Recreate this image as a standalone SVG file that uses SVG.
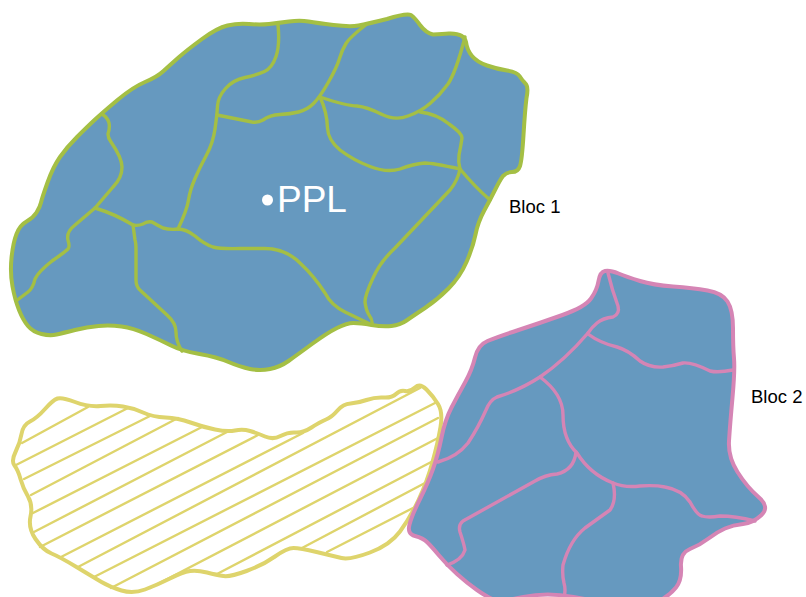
<svg xmlns="http://www.w3.org/2000/svg" width="806" height="597" viewBox="0 0 806 597">
<style>
.region{fill:#6699bf;stroke-width:4;stroke-linejoin:round}
.border{fill:none;stroke-width:3.4;stroke-linecap:round;stroke-linejoin:round}
.green{stroke:#a4bf44}
.pink{stroke:#d585b5}
.yellow{fill:none;stroke:#ded46c;stroke-width:4;stroke-linejoin:round}
.hatch{fill:none;stroke:#ded46c;stroke-width:2.400;stroke-linecap:round}
.label{font-family:"Liberation Sans",Arial,sans-serif;font-size:18.500px;fill:#000}
.ppl{font-family:"Liberation Sans",Arial,sans-serif;font-size:37px;fill:#fff}
</style>
<g id="zone-hatched">
<path class="hatch" d="M22 443L88 407M16 465L128 408M24 479L150 416M31 495L178 418M33 513L202 427M32 533L227 432M40 547L258 435M61 557L303 433M78 567L420 388M94 577L435 403M111 588L438 418M150 588L438 438M217 574L435 460M302 548L425 483M327 552L413 508"/>
<path class="yellow" d="M75 402Q88 407 100.500 406Q113 405 123 406.500Q133 408 143 412.500Q153 417 165.500 417.500Q178 418 190.500 422.500Q203 427 215 429.500Q227 432 235 430.500Q243 429 250 431Q257 433 265 436.500Q273 440 280.500 436Q288 432 295.500 432.500Q303 433 311.500 427.500Q320 422 326 419.500Q332 417 337.500 410.500Q343 404 350.500 403.500Q358 403 366.500 400Q375 397 383.500 397.500Q392 398 396 394Q400 390 405 391Q410 392 415 387.500Q420 383 426.500 389.500Q433 396 438 404Q443 412 440.500 427Q438 442 432.500 462Q427 482 418.500 500Q410 518 400 531.500Q390 545 370 552.500Q350 560 341.500 558Q333 556 316.500 552Q300 548 293.500 548Q287 548 275 556.500Q263 565 246.500 571Q230 577 223.500 576Q217 575 207 572.500Q197 570 190 571Q183 572 170 578.500Q157 585 145 589.500Q133 594 121.500 590.500Q110 587 101.500 582Q93 577 76.500 567Q60 557 51.500 553.500Q43 550 35.500 539Q28 528 30.500 516.500Q33 505 28 496.500Q23 488 20.500 479Q18 470 14.500 465.500Q11 461 15.500 452Q20 443 21.500 434Q23 425 30 421.500Q37 418 45 409Q53 400 57.500 398.500Q62 397 75 402Z"/>
</g>
<g id="bloc-1">
<path class="region green" d="M289 21.500Q300 20 308.500 21.500Q317 23 333.500 25Q350 27 358.500 25.500Q367 24 387 19Q406 13 411 15Q415 18 420 25Q426 33 433 34.500Q443 34 449 33.500Q464 33 466 42Q467 50 472 56Q477 62 487 65.500Q497 69 507 70.500Q517 72 519.500 76Q522 80 525 83Q529 86 526.500 98Q525 110 523.500 135Q522 160 520 166Q518 172 512 172Q507 172 503 176Q500 180 495 190Q490 200 484 211Q478 222 475.500 234.500Q473 247 466.500 262Q460 277 448.500 288.500Q437 300 425 308Q413 316 406.500 320.500Q400 325 391.500 326Q383 327 371.500 325Q360 323 353.500 323Q347 323 337 328Q327 333 312 344Q297 355 288.500 361Q280 367 270 369Q260 371 250 369Q240 367 228.500 362Q217 357 199.500 354Q182 351 171 345.500Q160 340 146.500 334Q133 328 121.500 326.500Q110 325 98.500 326Q87 327 75 330Q63 333 56.500 334.500Q50 336 41.500 334Q33 332 28 326Q23 320 19 310Q15 300 12.500 286.500Q10 273 11.500 258Q13 243 16.500 234Q20 225 26.500 221.500Q33 218 36.500 212.500Q40 207 41 202.500Q42 198 47.500 182.500Q53 167 60 157Q67 147 77 137Q87 127 94.500 120Q102 113 117.500 100Q133 87 145 82Q157 77 163.500 71Q170 65 178.500 57.500Q187 50 202 39Q217 28 227.500 25.500Q238 23 249 24Q260 25 269 24Q278 23 289 21.500Z"/>
<g id="bloc-1-borders" class="border green">
<path d="M278 25Q280 45 276 56.500Q272 68 264.500 71.500Q257 75 245 77.500Q233 80 225.500 88.500Q218 97 217.500 106Q217 115 215 129Q213 143 206.500 155Q200 167 195 178.500Q190 190 188.500 200Q187 210 178 229"/>
<path d="M217 115L252 122Q258 123 263 120Q270 115 280 114.500Q290 114 298.500 112Q307 110 313.500 103.500Q320 97 328.500 82Q337 67 339.500 58.500Q342 50 346 43.500Q350 37 367 24"/>
<path d="M320 97Q347 106 357 106Q367 107 381 114Q395 121 408 116Q420 112 430 103.500Q440 95 448 84Q456 72 465 37"/>
<path d="M420 112Q437 114 449 124Q462 133 462 138Q461 145 459 155Q458 162 460 169"/>
<path d="M320 97Q327 112 327.500 128Q328 140 340 150Q353 160 370 166.500Q387 173 400 169Q413 164 425 163Q432 163 460 169"/>
<path d="M460 169Q475 187 490 200"/>
<path d="M460 169Q458 180 450 190L395 248Q380 262 373 278Q365 295 365 302Q366 310 369 315Q373 320 372 325"/>
<path d="M178 229Q186 229 195 236Q204 244 213 247Q220 249 240 248.500L263 248.500Q285 248 300 263Q314 276 325 293Q331 305 345 312L370 324"/>
<path d="M178 229Q170 230 163 228Q157 225 152 222Q147 221 143 224Q138 226 133 225Q115 214 95 208"/>
<path d="M133 225L135 240Q136 243 136 250L136 280Q136 287 141 291L167 315Q176 323 176 332Q176 342 182 351"/>
<path d="M102 114Q108 118 109 123Q110 128 108 134Q108 138 111 142Q122 158 122 167Q122 178 113 187L95 208L75 225Q66 232 68 240Q70 247 68 249Q65 252 52 261Q38 272 35 279Q33 288 28 292L16 301"/>
</g>
<circle cx="267.500" cy="200" r="5.500" fill="#fff"/>
<text class="ppl" x="277" y="212">PPL</text>
<text class="label" x="509" y="213">Bloc 1</text>
</g>
<g id="bloc-2">
<path class="region pink" d="M618.500 273.500Q627 277 640 281Q653 285 673 286.500Q693 288 707.500 290.500Q722 293 727.500 301.500Q733 310 733 328.500Q733 347 734 358.500Q735 370 732.500 397.500Q730 425 729 441Q728 457 737.500 472Q747 487 758.500 497Q770 507 761.500 515Q753 523 743 524Q733 525 725 528.500Q717 532 708.500 538.500Q700 545 690 549Q680 553 681 566.500Q682 580 676 587.500Q670 595 660 600.500Q650 606 625 604Q600 602 573.500 597Q547 592 523.500 597Q500 602 493.500 599.500Q487 597 477 590Q467 583 457 574Q447 565 439.500 556Q432 547 427.500 542.500Q423 538 415 536Q407 534 409.500 524.500Q412 515 420 499Q428 483 433 469Q438 455 441.500 437.500Q445 420 451.500 407.500Q458 395 465 382.500Q472 370 475 357.500Q478 345 487.500 341Q497 337 518.500 330Q540 323 562.500 315Q585 307 591 298.500Q597 290 598.500 281Q600 272 605 271Q610 270 618.500 273.500Z"/>
<g id="bloc-2-borders" class="border pink">
<path d="M608 273Q612 290 618 306Q620 314 613 317Q603 318 597 323Q592 327 588 333"/>
<path d="M588 333Q565 360 540 377Q520 390 497 397Q490 400 486 410Q478 428 468 443Q457 457 438 462"/>
<path d="M588 334Q600 343 617 347Q628 350 640 361Q650 368 663 367Q673 366 683 363Q692 362 710 371Q718 373 733 370"/>
<path d="M540 377Q563 394 563 415Q563 440 577 453Q590 474 613 483Q625 488 640 486Q655 485 665 487Q682 490 690 502Q697 515 702 516Q708 518 720 516Q735 516 755 521"/>
<path d="M576 452Q574 470 557 474Q545 475 535 481L463 521Q458 525 460 532Q464 544 465 550Q462 560 447 565"/>
<path d="M613 483Q617 500 610 510L585 528Q570 540 563 565Q562 575 564 583Q566 590 564 597"/>
</g>
<text class="label" x="751" y="403">Bloc 2</text>
</g>
</svg>
